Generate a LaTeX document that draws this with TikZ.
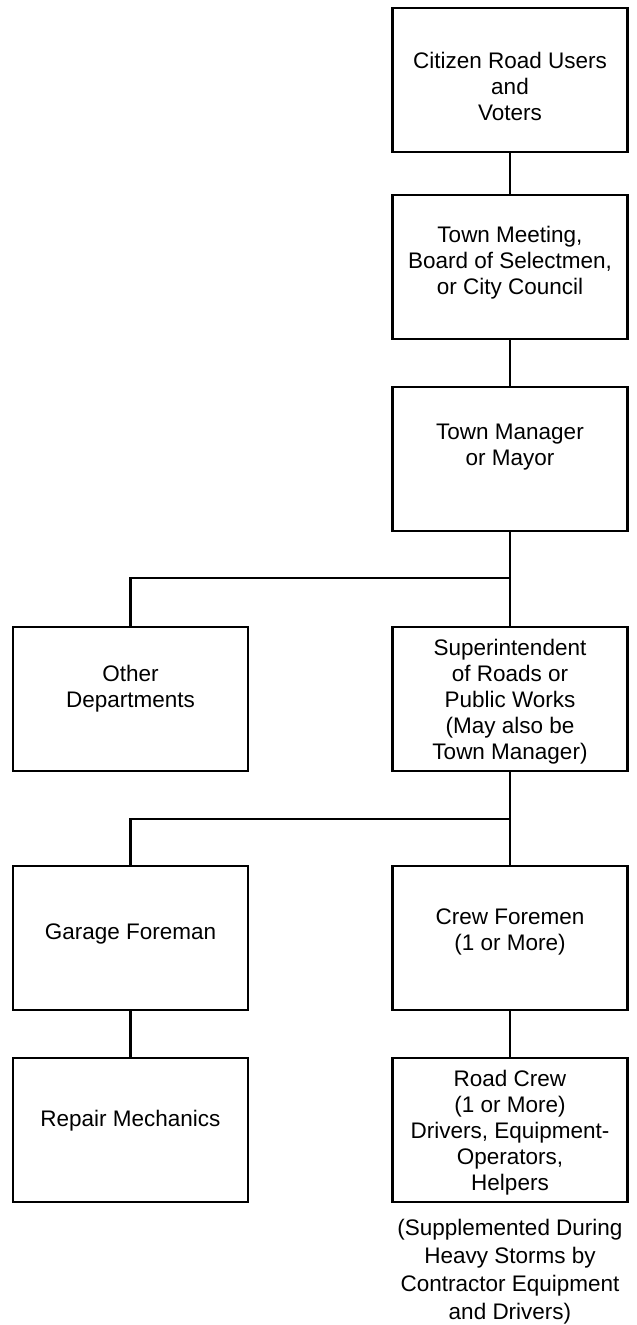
\documentclass[tikz,border=0pt]{standalone}
\usepackage{fontspec}
\setmainfont{Liberation Sans}
\newcommand\mybt[2]{\raisebox{#1}[\height][\depth]{\begin{tabular}{@{}c@{}}#2\end{tabular}}}
\begin{document}
\begin{tikzpicture}[x=1pt,y=-1pt]
\tikzset{
  box/.style={draw, line width=2.6pt, minimum width=235pt, minimum height=144pt,
    font=\fontsize{22.5}{26}\selectfont, inner sep=0pt},
  note/.style={align=center, font=\fontsize{22.5}{28}\selectfont, inner sep=0pt},
  conn/.style={line width=2.2pt}
}
\fill[white] (0,0) rectangle (637,1325);
\useasboundingbox (0,0) rectangle (637,1325);

\node[box] (citizen) at (510,80) {\mybt{-9pt}{Citizen Road Users\\and\\Voters}};
\node[box] (council) at (510,267) {\mybt{4pt}{Town Meeting,\\Board of Selectmen,\\or City Council}};
\node[box] (manager) at (510,459) {\mybt{12pt}{Town Manager\\or Mayor}};
\node[box] (other) at (130.5,699) {\mybt{10pt}{Other\\Departments}};
\node[box] (super) at (510,699) {\mybt{-3pt}{Superintendent\\of Roads or\\Public Works\\(May also be\\Town Manager)}};
\node[box] (garage) at (130.5,938) {\mybt{4pt}{Garage Foreman}};
\node[box] (crew) at (510,938) {\mybt{6pt}{Crew Foremen\\(1 or More)}};
\node[box] (repair) at (130.5,1130) {\mybt{9pt}{Repair Mechanics}};
\node[box] (road) at (510,1130) {\mybt{-3pt}{Road Crew\\(1 or More)\\Drivers, Equipment-\\Operators,\\Helpers}};
\node[note] (supp) at (510,1272) {(Supplemented During\\Heavy Storms by\\Contractor Equipment\\and Drivers)};

\coordinate (j1) at (510,578);
\coordinate (j2) at (510,819);

\draw[conn] (citizen) -- (council);
\draw[conn] (council) -- (manager);
\draw[conn] (manager) -- (super);
\draw[conn] (other.north) |- (j1);
\draw[conn] (super) -- (crew);
\draw[conn] (garage.north) |- (j2);
\draw[conn] (garage) -- (repair);
\draw[conn] (crew) -- (road);
\end{tikzpicture}
\end{document}
